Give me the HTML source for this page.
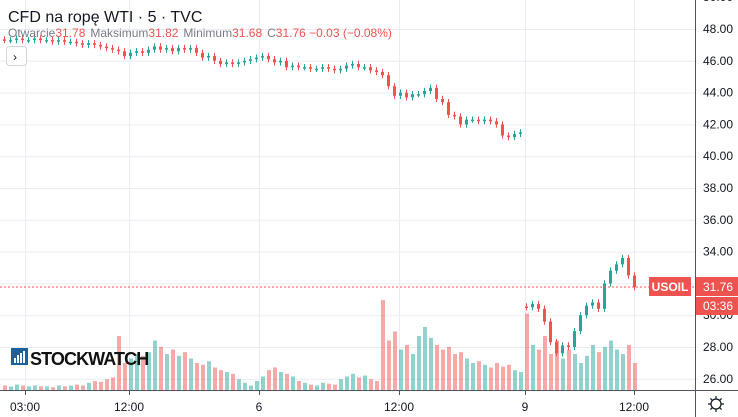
<!DOCTYPE html>
<html><head><meta charset="utf-8"><style>
body{margin:0;width:738px;height:417px;overflow:hidden;background:#fff;font-family:"Liberation Sans",sans-serif;}
svg{display:block}
</style></head><body>
<svg id="chart" width="738" height="417">
<g id="grid"></g>
<g id="vols"></g>
<g id="candles"></g>
<line x1="0" x2="695" y1="287" y2="287" stroke="#ef5350" stroke-dasharray="2,2" stroke-width="1"/>
<rect x="695" y="0" width="43" height="417" fill="#fff"/>
<rect x="0" y="391" width="738" height="26" fill="#fff"/>
<line x1="695.5" x2="695.5" y1="0" y2="417" stroke="#50535e"/>
<line x1="0" x2="738" y1="390.5" y2="390.5" stroke="#50535e"/>
<g id="yticks" font-size="12" fill="#131722"></g>
<g id="xticks" font-size="12" fill="#131722"></g>
<rect x="649" y="277" width="42" height="19" fill="#ef5350"/>
<text x="670" y="291" fill="#fff" font-size="12" font-weight="bold" text-anchor="middle">USOIL</text>
<rect x="696" y="277" width="42" height="19" fill="#ef5350"/>
<text x="703" y="291" fill="#fff" font-size="12">31.76</text>
<rect x="696" y="297" width="42" height="18" fill="#ef5350"/>
<text x="703" y="310" fill="#fff" font-size="12">03:36</text>
<g transform="translate(716,404)" fill="none" stroke="#131722" stroke-width="1.2">
<circle r="5"/><path d="M0,-8V-5M0,5V8M-8,0H-5M5,0H8M-5.6,-5.6L-3.5,-3.5M3.5,3.5L5.6,5.6M-5.6,5.6L-3.5,3.5M3.5,-3.5L5.6,-5.6"/></g>
<text x="8" y="22" font-size="16" fill="#131722">CFD na ropę WTI · 5 · TVC</text>
<g font-size="12">
<text x="8" y="37"><tspan fill="#787b86">Otwarcie</tspan><tspan fill="#ef5350">31.78</tspan><tspan fill="#787b86" dx="5">Maksimum</tspan><tspan fill="#ef5350">31.82</tspan><tspan fill="#787b86" dx="5">Minimum</tspan><tspan fill="#ef5350">31.68</tspan><tspan fill="#787b86" dx="5">C</tspan><tspan fill="#ef5350">31.76 −0.03 (−0.08%)</tspan></text></g>
<g><rect x="6.5" y="46.5" width="20" height="19" rx="3" fill="#fff" stroke="#d1d4dc"/><text x="13" y="61" font-size="12" fill="#131722">›</text></g>
<g><rect x="11" y="348" width="17" height="17" fill="#1e5f9e"/>
<rect x="14" y="358" width="2" height="5" fill="#fff"/><rect x="17" y="355" width="2" height="8" fill="#fff"/><rect x="20" y="353" width="2" height="10" fill="#fff"/><rect x="23" y="351" width="2" height="12" fill="#fff"/>
<text x="30" y="365" font-size="18" font-weight="bold" fill="#111" letter-spacing="-0.9">STOCKWATCH</text></g>
</svg>
<script>
const closes1=[47.3,47.3,47.4,47.3,47.3,47.4,47.3,47.3,47.2,47.3,47.2,47.2,47.1,47.0,47.1,47.0,46.9,46.8,46.7,46.6,46.3,46.5,46.6,46.5,46.7,46.9,46.7,46.8,46.6,46.8,46.7,46.8,46.5,46.2,46.3,46.0,45.8,45.9,45.8,45.9,46.0,46.1,46.2,46.3,46.1,45.9,46.0,45.6,45.7,45.6,45.6,45.5,45.5,45.6,45.5,45.4,45.5,45.7,45.8,45.6,45.6,45.4,45.3,45.1,44.4,43.8,44.0,43.7,43.9,43.9,44.1,44.3,43.6,43.4,42.6,42.5,42.0,42.3,42.3,42.2,42.3,42.2,42.0,41.3,41.2,41.4,41.5];
const closes2=[30.5,30.7,30.4,29.6,28.3,27.6,28.1,28.0,29.0,30.0,30.6,30.8,30.4,32.0,32.8,33.2,33.6,32.5,31.76];
const vols1=[5,4,6,5,4,5,4,4,3,5,4,5,6,5,8,10,9,12,14,60,30,35,40,38,42,55,48,40,45,38,42,35,30,28,32,25,22,20,18,12,8,5,10,15,22,25,20,18,15,10,8,6,5,8,7,6,12,15,18,14,16,12,10,100,55,65,45,50,40,60,70,58,50,45,48,40,42,35,30,32,28,25,30,26,28,22,20];
const vols2=[85,50,45,60,40,55,35,45,40,30,38,50,42,48,55,45,40,50,30];
const yTicks=[50,48,46,44,42,40,38,36,34,30,28,26];
const xLabels=["03:00","12:00","6","12:00","9","12:00"];
const xLabelPos=[25,129,259,399,525,634];
const NS="http://www.w3.org/2000/svg";
const yScale=v=>29+(48-v)*15.9;
const x1=i=>3+i*6, x2=i=>525+i*6;
const volH=v=>v*0.9;
function mk(tag,attrs,parent){const e=document.createElementNS(NS,tag);for(const k in attrs)e.setAttribute(k,attrs[k]);parent.appendChild(e);return e;}
const grid=document.getElementById('grid'),yt=document.getElementById('yticks'),xt=document.getElementById('xticks');
yTicks.concat([32]).forEach(v=>{const l=mk('line',{x1:0,x2:695,y1:yScale(v)+0.5,y2:yScale(v)+0.5,stroke:'#e9edf3'},grid);

});
yTicks.forEach(v=>{const t=mk('text',{x:703,y:yScale(v)+4},yt);t.textContent=v.toFixed(2);

});
xLabels.forEach((s,i)=>{const l=mk('line',{x1:xLabelPos[i]+0.5,x2:xLabelPos[i]+0.5,y1:0,y2:390,stroke:'#e9edf3'},grid);


const tk=mk('line',{x1:xLabelPos[i]+0.5,x2:xLabelPos[i]+0.5,y1:391,y2:395,stroke:'#50535e'},xt);


const t=mk('text',{x:xLabelPos[i],y:411,'text-anchor':'middle'},xt);t.textContent=s;

});
const cg=document.getElementById('candles'),vg=document.getElementById('vols');
function draw(closes,vols,xf){
 for(let i=0;i<closes.length;i++){
  const o=i?closes[i-1]:closes[i]+0.05, c=closes[i], up=c>=o;
  const col=up?'#26a69a':'#ef5350', x=xf(i);
  const hi=Math.max(o,c)+0.2, lo=Math.min(o,c)-0.2;
  const w=mk('line',{x1:x+1.5,x2:x+1.5,y1:yScale(hi),y2:yScale(lo),stroke:col},cg);
  
  
  const yT=yScale(Math.max(o,c)), h=Math.max(1.5,yScale(Math.min(o,c))-yT);
  const b=mk('rect',{x:x,y:yT,width:3,height:h,fill:col},cg);
  
  
  const vh=volH(vols[i]);
  const v=mk('rect',{x:x,y:390-vh,width:4,height:vh,fill:up?'rgba(38,166,154,0.5)':'rgba(239,83,80,0.5)'},vg);
  
  
 }
}
draw(closes1,vols1,x1);draw(closes2,vols2,x2);
</script>
</body></html>
